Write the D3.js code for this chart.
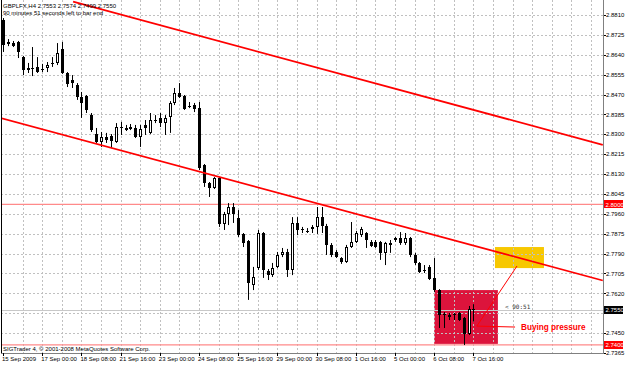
<!DOCTYPE html>
<html>
<head>
<meta charset="utf-8">
<script src="https://cdn.jsdelivr.net/npm/d3@7"></script>
<style>
  body { margin: 0; background: #fff; }
  svg text { font-family: "Liberation Sans", Arial, sans-serif; }
</style>
</head>
<body>
<div id="chart"></div>
<script>
// GBPLFX H4 candles
let opens = [2.8789,2.8695,2.8690,2.8695,2.8630,2.8583,2.8583,2.8588,2.8581,2.8583,
  2.8603,2.8605,2.8665,2.8562,2.8532,2.8511,2.8459,2.8464,2.8382,2.8301,
  2.8267,2.8288,2.8293,2.8267,2.8333,2.8327,2.8331,2.8327,2.8288,2.8340,
  2.8306,2.8363,2.8370,2.8348,2.8374,2.8434,2.8477,2.8464,2.8423,2.8425,
  2.8412,2.8169,2.8092,2.8070,2.8113,2.7917,2.7959,2.7989,2.7942,2.7874,
  2.7844,2.7656,2.7728,2.7878,2.7716,2.7698,2.7733,2.7784,2.7797,2.7720,
  2.7921,2.7893,2.7886,2.7895,2.7904,2.7946,2.7908,2.7827,2.7797,2.7771,
  2.7754,2.7818,2.7840,2.7870,2.7878,2.7840,2.7840,2.7840,2.7793,2.7827,
  2.7856,2.7856,2.7835,2.7856,2.7784,2.7750,2.7720,2.7733,2.7686,2.7634,
  2.7532,2.7526,2.7532,2.7536,2.7515,2.7446,2.7553];
let highs = [2.8797,2.8707,2.8699,2.8699,2.8635,2.8605,2.8673,2.8630,2.8601,2.8609,
  2.8630,2.8690,2.8695,2.8566,2.8553,2.8519,2.8481,2.8468,2.8391,2.8327,
  2.8310,2.8306,2.8301,2.8348,2.8353,2.8340,2.8344,2.8340,2.8340,2.8361,
  2.8391,2.8382,2.8391,2.8382,2.8442,2.8498,2.8519,2.8468,2.8438,2.8434,
  2.8438,2.8173,2.8096,2.8117,2.8117,2.7968,2.8006,2.8006,2.7976,2.7878,
  2.7848,2.7733,2.7891,2.7882,2.7724,2.7750,2.7797,2.7814,2.7810,2.7946,
  2.7946,2.7904,2.7899,2.7912,2.7989,2.7989,2.7917,2.7835,2.7805,2.7775,
  2.7827,2.7925,2.7887,2.7904,2.7882,2.7848,2.7848,2.7844,2.7840,2.7848,
  2.7861,2.7882,2.7878,2.7861,2.7793,2.7754,2.7741,2.7741,2.7771,2.7638,
  2.7540,2.7536,2.7536,2.7540,2.7519,2.7566,2.7574];
let lows = [2.8652,2.8677,2.8673,2.8626,2.8553,2.8562,2.8549,2.8562,2.8566,2.8566,
  2.8588,2.8596,2.8558,2.8502,2.8498,2.8447,2.8370,2.8391,2.8310,2.8263,
  2.8246,2.8263,2.8241,2.8263,2.8297,2.8314,2.8318,2.8284,2.8246,2.8297,
  2.8301,2.8348,2.8331,2.8297,2.8306,2.8425,2.8455,2.8404,2.8412,2.8395,
  2.8147,2.8075,2.8032,2.8066,2.7904,2.7891,2.7912,2.7921,2.7861,2.7818,
  2.7592,2.7634,2.7720,2.7686,2.7677,2.7690,2.7728,2.7775,2.7690,2.7698,
  2.7869,2.7878,2.7878,2.7878,2.7874,2.7878,2.7784,2.7775,2.7771,2.7746,
  2.7750,2.7814,2.7835,2.7861,2.7814,2.7818,2.7814,2.7763,2.7741,2.7793,
  2.7840,2.7827,2.7827,2.7775,2.7741,2.7707,2.7707,2.7677,2.7626,2.7472,
  2.7472,2.7506,2.7506,2.7502,2.7399,2.7442,2.7499];
let closes = [2.8682,2.8686,2.8677,2.8652,2.8575,2.8575,2.8579,2.8566,2.8579,2.8596,
  2.8599,2.8648,2.8562,2.8515,2.8519,2.8459,2.8433,2.8404,2.8318,2.8267,
  2.8288,2.8276,2.8272,2.8331,2.8331,2.8329,2.8333,2.8288,2.8323,2.8327,
  2.8361,2.8359,2.8348,2.8370,2.8434,2.8477,2.8459,2.8408,2.8421,2.8408,
  2.8156,2.8092,2.8070,2.8113,2.7917,2.7959,2.7989,2.7959,2.7869,2.7835,
  2.7664,2.7690,2.7878,2.7720,2.7698,2.7728,2.7784,2.7797,2.7720,2.7921,
  2.7891,2.7889,2.7883,2.7904,2.7946,2.7908,2.7827,2.7784,2.7775,2.7754,
  2.7818,2.7840,2.7878,2.7895,2.7848,2.7823,2.7818,2.7793,2.7835,2.7835,
  2.7848,2.7835,2.7856,2.7784,2.7750,2.7711,2.7716,2.7681,2.7634,2.7528,
  2.7528,2.7528,2.7528,2.7506,2.7446,2.7553,2.7550];

let timeLabels = ['15 Sep 2009','17 Sep 00:00','18 Sep 08:00','21 Sep 16:00','23 Sep 00:00',
  '24 Sep 08:00','25 Sep 16:00','29 Sep 00:00','30 Sep 08:00','1 Oct 16:00',
  '5 Oct 00:00','6 Oct 08:00','7 Oct 16:00'];
let labelBars = [0,8,16,24,32,40,48,56,64,72,80,88,96];

let priceTicks = [2.8810,2.8725,2.8640,2.8555,2.8470,2.8385,2.8300,2.8215,2.8130,
  2.8045,2.7960,2.7875,2.7790,2.7705,2.7620,2.7535,2.7450,2.7365];

// objects drawn on the chart: [bar, price]
let lowerChannel = [[-0.6, 2.8370],[122.4, 2.7675]];
let upperChannel = [[14.3, 2.8867],[122.4, 2.8255]];
let levels = [2.8000, 2.7400];
let bid = 2.7550;
let redBox = [[88, 2.7634],[101, 2.7404]];
let yellowBox = [[100.4, 2.7818],[110.4, 2.7728]];
let arrowLine = [[96.7, 2.7480],[104.9, 2.7737]];
let pointerLine = [[96.7, 2.7480],[104.5, 2.7476]];

let width = 625, height = 365;
let plotRight = 603, plotBottom = 353;

let svg = d3.select("#chart").append("svg")
  .attr("width", width).attr("height", height);

let x = d3.scaleLinear().domain([0, 96]).range([3, 473.4]);
let y = d3.scaleLinear().domain([2.7365, 2.8810]).range([353, 15]);

svg.append("defs").append("clipPath").attr("id", "plot")
  .append("rect").attr("x", 1).attr("y", 0)
  .attr("width", plotRight - 1).attr("height", plotBottom);

let plot = svg.append("g").attr("clip-path", "url(#plot)");

// rectangles first (background objects)
function box(b, fill) {
  plot.append("rect")
    .attr("x", x(b[0][0])).attr("y", y(b[0][1]))
    .attr("width", x(b[1][0]) - x(b[0][0]))
    .attr("height", y(b[1][1]) - y(b[0][1]))
    .attr("fill", fill);
}
box(redBox, "#dc143c");
box(yellowBox, "#f7c800");

// grid
let vGrid = d3.range(4, 124, 4);
plot.selectAll(".vg").data(vGrid).enter().append("line")
  .attr("x1", d => Math.round(x(d)) + 0.5).attr("x2", d => Math.round(x(d)) + 0.5)
  .attr("y1", 0).attr("y2", plotBottom)
  .attr("stroke", "#c0c0c0").attr("stroke-dasharray", "2,2");
plot.selectAll(".hg").data(priceTicks).enter().append("line")
  .attr("x1", 1).attr("x2", plotRight)
  .attr("y1", d => Math.round(y(d)) + 0.5).attr("y2", d => Math.round(y(d)) + 0.5)
  .attr("stroke", "#c0c0c0").attr("stroke-dasharray", "2,2");

// horizontal levels and bid line
plot.selectAll(".lvl").data(levels).enter().append("line")
  .attr("x1", 1).attr("x2", plotRight)
  .attr("y1", d => y(d)).attr("y2", d => y(d))
  .attr("stroke", "#ff8a8a").attr("stroke-width", 1.3);
plot.append("line")
  .attr("x1", 1).attr("x2", plotRight)
  .attr("y1", Math.round(y(bid)) + 0.5).attr("y2", Math.round(y(bid)) + 0.5)
  .attr("stroke", "#c8c8c8");

// candles
let bars = d3.range(opens.length).map(i => ({
  i: i, o: opens[i], h: highs[i], l: lows[i], c: closes[i]
}));
let candles = plot.selectAll(".candle").data(bars).enter().append("g");
candles.append("line")
  .attr("x1", d => Math.round(x(d.i)) + 0.5).attr("x2", d => Math.round(x(d.i)) + 0.5)
  .attr("y1", d => y(d.h)).attr("y2", d => y(d.l))
  .attr("stroke", "#000");
candles.append("rect")
  .attr("x", d => d.c > d.o ? Math.round(x(d.i)) - 0.5 : Math.round(x(d.i)) - 1)
  .attr("y", d => {
    let top = Math.round(y(Math.max(d.o, d.c)));
    return d.c > d.o ? top + 0.5 : top;
  })
  .attr("width", d => d.c > d.o ? 2 : 3)
  .attr("height", d => {
    let hgt = Math.max(1, Math.round(y(Math.min(d.o, d.c)) - y(Math.max(d.o, d.c))));
    return d.c > d.o ? Math.max(1, hgt - 1) : hgt;
  })
  .attr("fill", d => d.c > d.o ? "#fff" : "#000")
  .attr("stroke", d => d.c > d.o ? "#000" : "none");

// channel lines
let line = d3.line().x(d => x(d[0])).y(d => y(d[1]));
[lowerChannel, upperChannel].forEach(ch => {
  plot.append("path").attr("d", line(ch))
    .attr("stroke", "#ff0000").attr("stroke-width", 1.7).attr("fill", "none");
});
[arrowLine, pointerLine].forEach(l => {
  plot.append("path").attr("d", line(l))
    .attr("stroke", "#ff0000").attr("stroke-width", 1).attr("fill", "none");
});

// annotations
plot.append("text").attr("x", 521).attr("y", 330)
  .attr("font-size", 8.2).attr("font-weight", "bold").attr("fill", "#ff0000")
  .text("Buying pressure");
plot.append("text").attr("x", 505).attr("y", 309)
  .style("font-family", "DejaVu Sans Mono")
  .attr("font-size", 6).attr("fill", "#333")
  .text("< 90:51");

// header
svg.append("text").attr("x", 3).attr("y", 8).attr("font-size", 6).attr("fill", "#000")
  .text("GBPLFX,H4  2.7553 2.7574 2.7499 2.7550");
svg.append("text").attr("x", 3).attr("y", 15).attr("font-size", 6).attr("fill", "#000")
  .text("90 minutes 51 seconds left to bar end");
svg.append("text").attr("x", 3).attr("y", 351).attr("font-size", 6).attr("fill", "#000")
  .text("SIGTrader 4, \u00a9 2001-2008 MetaQuotes Software Corp.");

// frame
svg.append("line").attr("x1", 1.5).attr("x2", 1.5).attr("y1", 0).attr("y2", plotBottom)
  .attr("stroke", "#000");
svg.append("line").attr("x1", plotRight + 0.5).attr("x2", plotRight + 0.5)
  .attr("y1", 0).attr("y2", plotBottom).attr("stroke", "#808080");
svg.append("line").attr("x1", 1).attr("x2", plotRight + 1)
  .attr("y1", plotBottom + 0.5).attr("y2", plotBottom + 0.5).attr("stroke", "#808080");

// price axis; labels hidden under a price tag are not drawn
let tags = [levels[0], levels[1], bid];
let freeTicks = priceTicks.filter(p => tags.every(t => Math.abs(y(t) - y(p)) > 7));
let yAxis = svg.append("g");
yAxis.selectAll(".pt").data(priceTicks).enter().append("line")
  .attr("x1", plotRight + 1).attr("x2", plotRight + 3)
  .attr("y1", d => Math.round(y(d)) + 0.5).attr("y2", d => Math.round(y(d)) + 0.5)
  .attr("stroke", "#000");
yAxis.selectAll(".pl").data(freeTicks).enter().append("text")
  .attr("x", 606).attr("y", d => y(d) + 2.2)
  .attr("font-size", 6).attr("fill", "#000")
  .text(d => d.toFixed(4));

function priceTag(p, fill) {
  yAxis.append("rect").attr("x", plotRight + 1).attr("y", Math.round(y(p)) - 4)
    .attr("width", 19).attr("height", 8).attr("fill", fill);
  yAxis.append("text").attr("x", 605.5).attr("y", y(p) + 2.2)
    .attr("font-size", 6).attr("fill", "#fff").text(p.toFixed(4));
}
priceTag(levels[0], "#ff0000");
priceTag(levels[1], "#ff0000");
priceTag(bid, "#000");

// time axis
let xAxis = svg.append("g");
xAxis.selectAll(".tt").data(labelBars).enter().append("line")
  .attr("x1", d => Math.round(x(d)) + 0.5).attr("x2", d => Math.round(x(d)) + 0.5)
  .attr("y1", plotBottom).attr("y2", plotBottom + 3)
  .attr("stroke", "#000");
xAxis.selectAll(".tl").data(labelBars).enter().append("text")
  .attr("x", d => x(d) - 1).attr("y", 361)
  .attr("font-size", 6).attr("fill", "#000")
  .text((d, i) => timeLabels[i]);
</script>
</body>
</html>
